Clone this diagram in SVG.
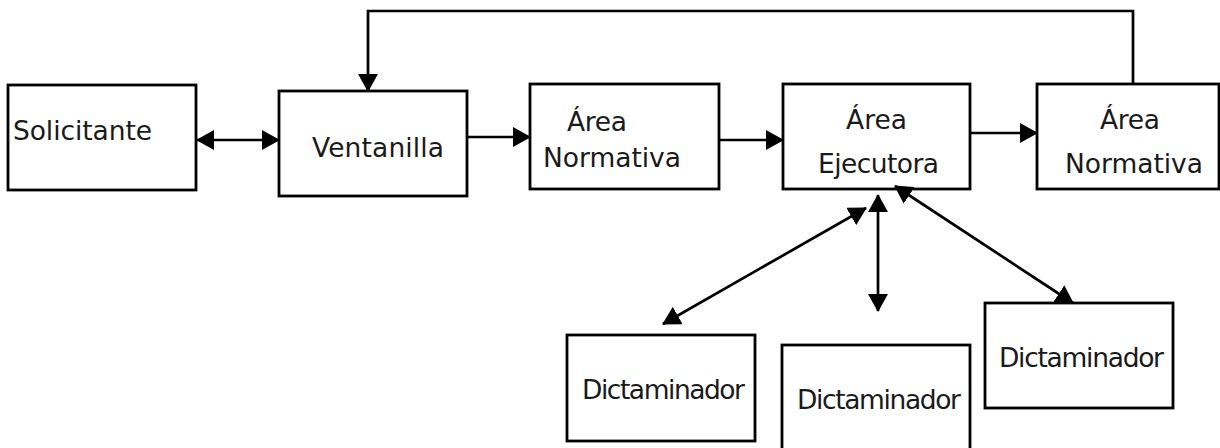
<svg xmlns="http://www.w3.org/2000/svg" width="1220" height="448" viewBox="0 0 1220 448">
<style>
.box{fill:#fff;stroke:#000;stroke-width:2.8}
.lbl{font-family:"DejaVu Sans","Open Sans",sans-serif;font-size:26.5px;fill:#1a1a1a}
.con{fill:none;stroke:#000;stroke-width:2.7}
</style>
<defs>
<marker id="ah" viewBox="0 0 18 20" markerWidth="18" markerHeight="20" refX="17" refY="10" orient="auto-start-reverse" markerUnits="userSpaceOnUse">
<path d="M0,0 L18,10 L0,20 z" fill="#000"/>
</marker>
</defs>
<rect width="1220" height="448" fill="#fff"/>
<g id="n-solicitante"><rect class="box" x="8" y="85" width="188" height="105"/><text class="lbl" x="13" y="140" textLength="139">Solicitante</text></g>
<g id="n-ventanilla"><rect class="box" x="279" y="91" width="188" height="105"/><text class="lbl" x="312" y="157" textLength="132">Ventanilla</text></g>
<g id="n-normativa1"><rect class="box" x="530" y="84" width="189" height="105"/><text class="lbl" x="567" y="131" textLength="60">Área</text><text class="lbl" x="543" y="167" textLength="138">Normativa</text></g>
<g id="n-ejecutora"><rect class="box" x="783" y="84" width="187" height="105"/><text class="lbl" x="846" y="129" textLength="61">Área</text><text class="lbl" x="818" y="173" textLength="121">Ejecutora</text></g>
<g id="n-normativa2"><rect class="box" x="1037" y="84" width="182" height="105"/><text class="lbl" x="1100" y="129" textLength="60">Área</text><text class="lbl" x="1065" y="173" textLength="138">Normativa</text></g>
<g id="n-dict1"><rect class="box" x="567" y="335" width="188" height="106"/><text class="lbl" x="582" y="399" textLength="163">Dictaminador</text></g>
<g id="n-dict2"><rect class="box" x="782" y="345" width="188" height="110"/><text class="lbl" x="797" y="409" textLength="164">Dictaminador</text></g>
<g id="n-dict3"><rect class="box" x="985" y="303" width="188" height="105"/><text class="lbl" x="999" y="367" textLength="165">Dictaminador</text></g>
<g id="connectors">
<line class="con" x1="197" y1="140" x2="279" y2="140" marker-start="url(#ah)" marker-end="url(#ah)"/>
<line class="con" x1="467" y1="137" x2="530" y2="137" marker-end="url(#ah)"/>
<line class="con" x1="719" y1="140" x2="783" y2="140" marker-end="url(#ah)"/>
<line class="con" x1="970" y1="133" x2="1037" y2="133" marker-end="url(#ah)"/>
<polyline class="con" points="1133,84 1133,11 368,11 368,91" marker-end="url(#ah)"/>
<line class="con" x1="663" y1="324" x2="866" y2="208" marker-start="url(#ah)" marker-end="url(#ah)"/>
<line class="con" x1="878" y1="195" x2="878" y2="311" marker-start="url(#ah)" marker-end="url(#ah)"/>
<line class="con" x1="895" y1="186" x2="1073" y2="303" marker-start="url(#ah)" marker-end="url(#ah)"/>
</g>
</svg>
